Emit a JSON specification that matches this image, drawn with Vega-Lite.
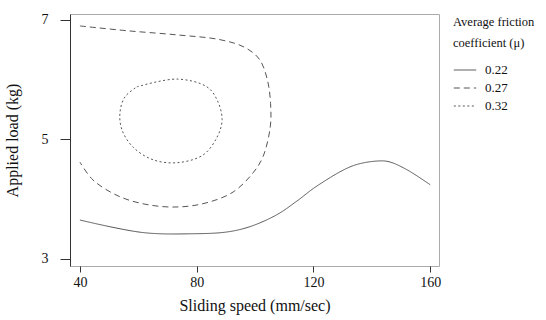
{
  "$schema": "https://vega.github.io/schema/vega-lite/v6.json",
  "width": 369,
  "height": 252,
  "autosize": {"type": "none"},
  "padding": {"left": 70, "top": 14, "right": 107, "bottom": 54},
  "background": "white",
  "config": {
    "font": "Liberation Serif",
    "view": {"stroke": "#aaaaaa", "strokeWidth": 1}
  },
  "data": {
    "values": [
      {"level": "0.22", "o": 1, "speed": 40, "load": 3.65},
      {"level": "0.22", "o": 2, "speed": 61.6, "load": 3.44},
      {"level": "0.22", "o": 3, "speed": 78.7, "load": 3.42},
      {"level": "0.22", "o": 4, "speed": 90.4, "load": 3.45},
      {"level": "0.22", "o": 5, "speed": 98.3, "load": 3.54},
      {"level": "0.22", "o": 6, "speed": 107.5, "load": 3.74},
      {"level": "0.22", "o": 7, "speed": 114.4, "load": 3.97},
      {"level": "0.22", "o": 8, "speed": 121.2, "load": 4.22},
      {"level": "0.22", "o": 9, "speed": 133.6, "load": 4.56},
      {"level": "0.22", "o": 10, "speed": 142.8, "load": 4.64},
      {"level": "0.22", "o": 11, "speed": 146.3, "load": 4.62},
      {"level": "0.22", "o": 12, "speed": 152.1, "load": 4.49},
      {"level": "0.22", "o": 13, "speed": 160, "load": 4.24},
      {"level": "0.27", "o": 1, "speed": 40, "load": 6.9},
      {"level": "0.27", "o": 2, "speed": 56.1, "load": 6.82},
      {"level": "0.27", "o": 3, "speed": 73.3, "load": 6.75},
      {"level": "0.27", "o": 4, "speed": 88.0, "load": 6.67},
      {"level": "0.27", "o": 5, "speed": 96.5, "load": 6.54},
      {"level": "0.27", "o": 6, "speed": 101.5, "load": 6.34},
      {"level": "0.27", "o": 7, "speed": 104.2, "load": 6.0},
      {"level": "0.27", "o": 8, "speed": 105.3, "load": 5.6},
      {"level": "0.27", "o": 9, "speed": 105.2, "load": 5.21},
      {"level": "0.27", "o": 10, "speed": 102.7, "load": 4.71},
      {"level": "0.27", "o": 11, "speed": 99.3, "load": 4.44},
      {"level": "0.27", "o": 12, "speed": 92.5, "load": 4.12},
      {"level": "0.27", "o": 13, "speed": 83.5, "load": 3.94},
      {"level": "0.27", "o": 14, "speed": 74.3, "load": 3.87},
      {"level": "0.27", "o": 15, "speed": 64.0, "load": 3.9},
      {"level": "0.27", "o": 16, "speed": 53.7, "load": 4.04},
      {"level": "0.27", "o": 17, "speed": 44.5, "load": 4.32},
      {"level": "0.27", "o": 18, "speed": 40, "load": 4.62},
      {"level": "0.32", "o": 1, "speed": 59.5, "load": 5.88},
      {"level": "0.32", "o": 2, "speed": 73.3, "load": 6.01},
      {"level": "0.32", "o": 3, "speed": 83.5, "load": 5.88},
      {"level": "0.32", "o": 4, "speed": 87.0, "load": 5.66},
      {"level": "0.32", "o": 5, "speed": 88.7, "load": 5.33},
      {"level": "0.32", "o": 6, "speed": 87.0, "load": 5.04},
      {"level": "0.32", "o": 7, "speed": 82.2, "load": 4.74},
      {"level": "0.32", "o": 8, "speed": 73.3, "load": 4.61},
      {"level": "0.32", "o": 9, "speed": 65.0, "load": 4.66},
      {"level": "0.32", "o": 10, "speed": 58.2, "load": 4.87},
      {"level": "0.32", "o": 11, "speed": 54.4, "load": 5.16},
      {"level": "0.32", "o": 12, "speed": 53.7, "load": 5.44},
      {"level": "0.32", "o": 13, "speed": 55.4, "load": 5.71},
      {"level": "0.32", "o": 14, "speed": 59.5, "load": 5.88}
    ]
  },
  "mark": {"type": "line", "interpolate": "catmull-rom", "color": "#555555", "strokeWidth": 1},
  "encoding": {
    "x": {
      "field": "speed", "type": "quantitative",
      "scale": {"domain": [36.6, 163], "nice": false, "zero": false},
      "axis": {
        "values": [40, 80, 120, 160], "title": "Sliding speed (mm/sec)",
        "grid": false, "domain": false, "tickColor": "#333", "tickSize": 6,
        "labelFontSize": 14, "labelColor": "#111", "labelPadding": 3,
        "titleFontSize": 16, "titleFontWeight": "normal", "titleColor": "#111", "titlePadding": 8
      }
    },
    "y": {
      "field": "load", "type": "quantitative",
      "scale": {"domain": [2.88, 7.1], "nice": false, "zero": false},
      "axis": {
        "values": [3, 5, 7], "title": "Applied load (kg)",
        "grid": false, "domain": true, "domainColor": "#333", "tickColor": "#333", "tickSize": 10,
        "labelFontSize": 14, "labelColor": "#111", "labelPadding": 12,
        "titleFontSize": 16, "titleFontWeight": "normal", "titleColor": "#111",
        "titleX": -50, "titleY": 126
      }
    },
    "strokeDash": {
      "field": "level", "type": "nominal",
      "scale": {"domain": ["0.22", "0.27", "0.32"], "range": [[1, 0], [6, 4], [2, 2.5]]},
      "legend": {
        "title": ["Average friction", "coefficient (μ)"],
        "orient": "none", "legendX": 383, "legendY": 2,
        "titleFontSize": 12.5, "titleFontWeight": "normal", "titleColor": "#111",
        "titlePadding": 14, "titleLineHeight": 21,
        "labelFontSize": 13, "labelColor": "#111", "labelOffset": 8,
        "symbolType": "stroke", "symbolSize": 500, "symbolStrokeColor": "#555",
        "symbolStrokeWidth": 1, "rowPadding": 4, "clipHeight": 13, "offset": 0
      }
    },
    "detail": {"field": "level"},
    "order": {"field": "o", "type": "quantitative"}
  }
}
